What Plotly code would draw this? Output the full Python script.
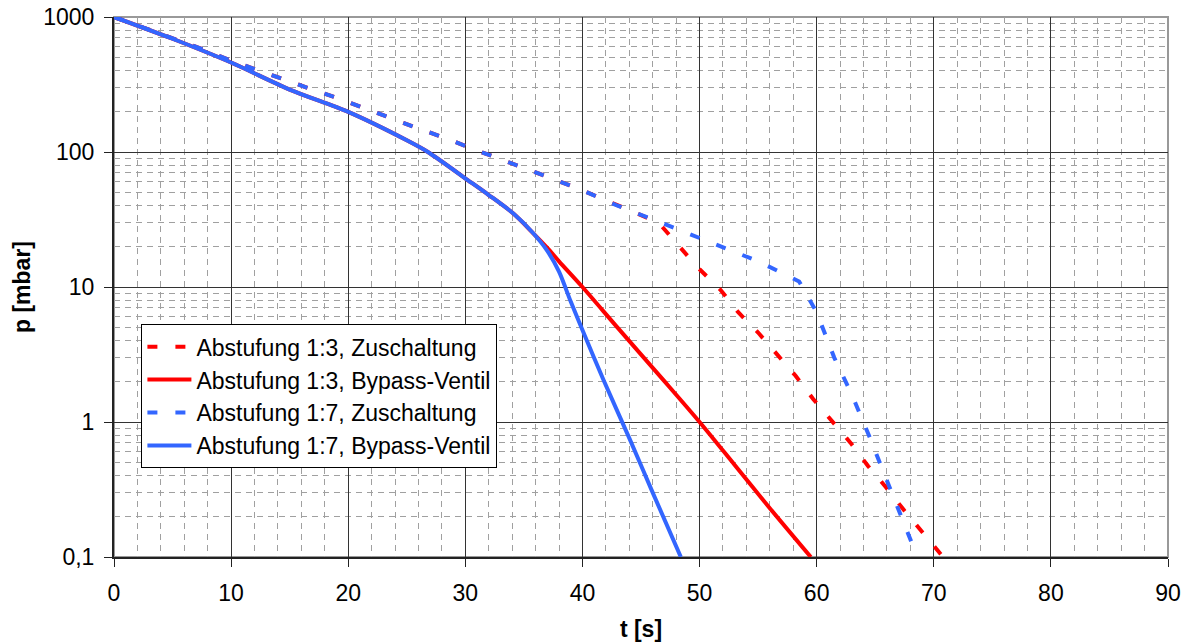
import plotly.graph_objects as go

# Abstufung 1:3, Zuschaltung
t_13_zu = [0, 5, 7.3, 10, 12.2, 14.4, 16.8, 19.1, 21.5, 23.8, 26.1, 28.5, 30.7, 33, 35.4, 40, 43, 46.5,
           48.4, 49.9, 51.8, 53.3, 55, 56.7, 58.2, 59.7, 61.4, 62.9, 64.4, 65.9, 67.5, 69.1, 70.8]
p_13_zu = [1000, 695, 589, 475, 405, 347, 293, 251, 208, 176, 148, 125, 105, 89, 74, 52, 40, 30,
           19.4, 13.8, 9.5, 6.5, 4.6, 3.1, 2.2, 1.48, 1.0, 0.70, 0.47, 0.33, 0.22, 0.15, 0.10]

# Abstufung 1:3, Bypass-Ventil
t_13_bp = [0, 5, 10, 15, 20, 25, 26.8, 30.2, 32, 34.1, 35.8, 37, 38, 40, 43, 46.9, 50, 53, 56, 59.5]
p_13_bp = [1000, 690, 460, 290, 198, 122, 100, 62, 48, 35, 25, 19.5, 15.5, 10, 5.0, 2.05, 1.0, 0.48, 0.23, 0.10]

# Abstufung 1:7, Zuschaltung
t_17_zu = [0, 5, 7.3, 10, 12.2, 14.4, 16.8, 19.1, 21.5, 23.8, 26.1, 28.5, 30.7, 33, 35.4, 40, 43, 46.7,
           51.5, 55, 58.5, 60, 61.5, 63, 64.5, 66, 67.5, 68.6]
p_17_zu = [1000, 695, 589, 475, 405, 347, 293, 251, 208, 176, 148, 125, 105, 89, 74, 52, 40, 30,
           20.5, 15.5, 11, 6.5, 3.0, 1.6, 0.78, 0.37, 0.18, 0.10]

# Abstufung 1:7, Bypass-Ventil
t_17_bp = [0, 5, 10, 15, 20, 25, 26.8, 30.2, 32, 34.1, 35.8, 37, 38, 39, 40, 41.8, 44, 46, 48.4]
p_17_bp = [1000, 690, 460, 290, 198, 122, 100, 62, 48, 35, 25, 18.5, 13, 7.8, 4.8, 2.05, 0.76, 0.30, 0.10]

y_tickvals = [0.1, 1, 10, 100, 1000]
y_ticktext = ["0,1", "1", "10", "100", "1000"]

RED = "#FF0000"
BLUE = "#3366FF"
DASH = "10px,18px"
FONT = "Liberation Sans, Arial, sans-serif"
FS = 23

fig = go.Figure()
fig.add_trace(go.Scatter(x=t_13_zu, y=p_13_zu, mode="lines", name="Abstufung 1:3, Zuschaltung",
                         line=dict(color=RED, width=4, dash=DASH)))
fig.add_trace(go.Scatter(x=t_13_bp, y=p_13_bp, mode="lines", name="Abstufung 1:3, Bypass-Ventil",
                         line=dict(color=RED, width=4, shape="spline", smoothing=0.8)))
fig.add_trace(go.Scatter(x=t_17_zu, y=p_17_zu, mode="lines", name="Abstufung 1:7, Zuschaltung",
                         line=dict(color=BLUE, width=4, dash=DASH)))
fig.add_trace(go.Scatter(x=t_17_bp, y=p_17_bp, mode="lines", name="Abstufung 1:7, Bypass-Ventil",
                         line=dict(color=BLUE, width=4, shape="spline", smoothing=0.8)))

# grey frame around the plotting area
fig.add_shape(type="rect", xref="paper", yref="paper", x0=0, y0=0, x1=1, y1=1,
              line=dict(color="#999999", width=2), layer="below")

fig.update_layout(
    width=1189, height=644,
    margin=dict(l=114, r=21, t=17, b=87),
    paper_bgcolor="white", plot_bgcolor="white",
    font=dict(family=FONT, size=FS, color="black"),
    showlegend=True,
    legend=dict(x=0.026, y=0.431, xanchor="left", yanchor="top",
                bgcolor="white", bordercolor="black", borderwidth=1,
                font=dict(size=FS), tracegroupgap=0, itemwidth=44),
)

fig.update_xaxes(
    range=[0, 90], dtick=10, tick0=0, automargin=False,
    showline=True, linecolor="#222222", linewidth=2,
    ticks="outside", ticklen=8, tickcolor="#222222", tickwidth=1,
    ticklabelstandoff=6,
    showgrid=True, gridcolor="#333333", gridwidth=1,
    zeroline=False,
    minor=dict(dtick=2, showgrid=True, gridcolor="#A0A0A0", griddash="6px,5px", gridwidth=1),
    title=dict(text="<b>t [s]</b>", font=dict(size=FS), standoff=16),
)

fig.update_yaxes(
    type="log", range=[-1, 3], automargin=False,
    tickvals=y_tickvals, ticktext=y_ticktext,
    showline=True, linecolor="#222222", linewidth=2,
    ticks="outside", ticklen=8, tickcolor="#222222", tickwidth=1,
    ticklabelstandoff=5,
    showgrid=True, gridcolor="#333333", gridwidth=1,
    zeroline=False,
    minor=dict(dtick="D1", showgrid=True, gridcolor="#A0A0A0", griddash="6px,5px", gridwidth=1),
    title=dict(text="<b>p [mbar]</b>", font=dict(size=FS), standoff=6),
)

fig.write_html("out.html")
